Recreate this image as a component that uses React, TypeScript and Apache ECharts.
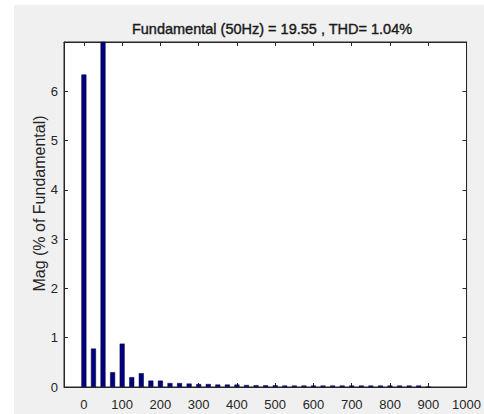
import React, { useEffect, useRef } from "react";
import * as echarts from "echarts";

const titleText = "Fundamental (50Hz) = 19.55 , THD= 1.04%";
const yAxisName = "Mag (% of Fundamental)";
const freqs = [
  0, 25, 50, 75, 100, 125, 150, 175, 200, 225, 250, 275, 300, 325, 350, 375, 400,
  425, 450, 475, 500, 525, 550, 575, 600, 625, 650, 675, 700, 725, 750, 775, 800,
  825, 850, 875, 900,
];
const mags = [
  6.34, 0.78, 100, 0.3, 0.88, 0.2, 0.28, 0.13, 0.13, 0.08, 0.08, 0.07, 0.06, 0.06,
  0.05, 0.05, 0.05, 0.04, 0.035, 0.035, 0.035, 0.03, 0.03, 0.03, 0.03, 0.03, 0.03,
  0.03, 0.03, 0.03, 0.03, 0.03, 0.03, 0.03, 0.03, 0.03, 0.0,
];
const xTicks = [0, 100, 200, 300, 400, 500, 600, 700, 800, 900, 1000];

const FONT = "'Liberation Sans', Arial, sans-serif";

export default function App() {
  const ref = useRef<HTMLDivElement>(null);
  useEffect(() => {
    if (!ref.current) return;
    const chart = echarts.init(ref.current, undefined, { renderer: "svg" });
    const axisColor = "#262626";
    chart.setOption({
      animation: false,
      backgroundColor: "transparent",
      title: {
        text: titleText,
        left: 267,
        textAlign: "center",
        top: 16,
        textStyle: {
          fontFamily: FONT,
          fontSize: 14.5,
          fontWeight: "normal",
          color: "#1a1a1a",
          textBorderColor: "#1a1a1a",
          textBorderWidth: 0.4,
        },
      },
      grid: {
        left: 64,
        right: 16,
        top: 42,
        bottom: 27,
        show: true,
        backgroundColor: "#ffffff",
        borderColor: axisColor,
        borderWidth: 1,
      },
      xAxis: [
        {
          type: "value",
          min: -52,
          max: 1000,
          position: "bottom",
          axisLine: { show: true, onZero: false, lineStyle: { color: axisColor } },
          axisTick: { show: true, inside: true, length: 4, customValues: xTicks, lineStyle: { color: axisColor } },
          axisLabel: {
            customValues: xTicks,
            color: axisColor,
            fontFamily: FONT,
            fontSize: 13,
            margin: 11,
            formatter: (v: number) => String(v),
          },
          splitLine: { show: false },
        },
        {
          type: "value",
          min: -52,
          max: 1000,
          position: "top",
          axisLine: { show: true, onZero: false, lineStyle: { color: axisColor } },
          axisTick: { show: true, inside: true, length: 4, customValues: xTicks, lineStyle: { color: axisColor } },
          axisLabel: { show: false },
          splitLine: { show: false },
        },
      ],
      yAxis: [
        {
          type: "value",
          min: 0,
          max: 7,
          interval: 1,
          position: "left",
          name: yAxisName,
          nameLocation: "middle",
          nameGap: 17,
          nameMoveOverlap: false,
          nameTextStyle: { fontFamily: FONT, fontSize: 16, color: axisColor, padding: [0, 0, 0, 22] },
          axisLine: { show: true, onZero: false, lineStyle: { color: axisColor } },
          axisTick: { show: true, inside: true, length: 4, lineStyle: { color: axisColor } },
          axisLabel: {
            color: axisColor,
            fontFamily: FONT,
            fontSize: 13,
            margin: 6,
            showMaxLabel: false,
          },
          splitLine: { show: false },
        },
        {
          type: "value",
          min: 0,
          max: 7,
          interval: 1,
          position: "right",
          axisLine: { show: true, onZero: false, lineStyle: { color: axisColor } },
          axisTick: { show: true, inside: true, length: 4, lineStyle: { color: axisColor } },
          axisLabel: { show: false },
          splitLine: { show: false },
        },
      ],
      series: [
        {
          type: "bar",
          xAxisIndex: 0,
          yAxisIndex: 0,
          clip: true,
          barWidth: 5,
          data: freqs.map((f, i) => [f, mags[i]]),
          itemStyle: { color: "#00007f", borderColor: "#000033", borderWidth: 0.5 },
        },
      ],
    });
    return () => chart.dispose();
  }, []);
  return (
    <div style={{ position: "fixed", left: 0, top: 0, width: 484, height: 414, background: "#ffffff" }}>
      <div style={{ position: "absolute", left: 14, top: 5, right: 0, bottom: 0, background: "#f0f0f0" }} />
      <div ref={ref} style={{ position: "absolute", left: 0, top: 0, width: 484, height: 414 }} />
    </div>
  );
}
